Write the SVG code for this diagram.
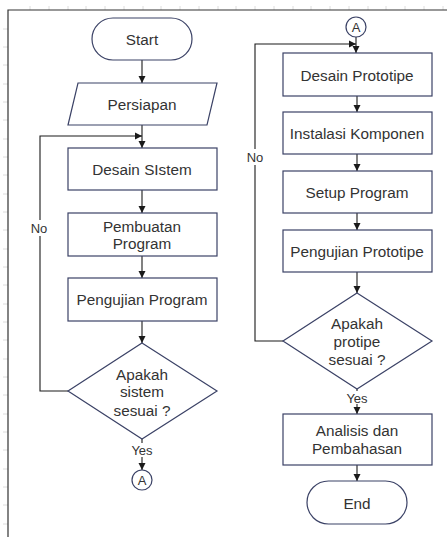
<svg xmlns="http://www.w3.org/2000/svg" width="447" height="537" viewBox="0 0 447 537">
<defs>
<marker id="ah" markerWidth="8" markerHeight="8" refX="7" refY="4" orient="auto" markerUnits="userSpaceOnUse">
<path d="M0,0.5 L7,4 L0,7.5 Z" fill="#1a1a1a"/>
</marker>
</defs>
<style>
.shape{fill:#ffffff;stroke:#3b4266;stroke-width:1.2}
.conn{fill:none;stroke:#1a1a1a;stroke-width:1.1}
.t{font-family:"Liberation Sans",Arial,sans-serif;font-size:15.3px;fill:#333333;text-anchor:middle}
.s{font-family:"Liberation Sans",Arial,sans-serif;font-size:13px;fill:#333333;text-anchor:middle}
.tick{stroke:#dcdcdc;stroke-width:1}
</style>
<rect x="0" y="0" width="447" height="537" fill="#ffffff"/>
<g id="ruler">
<path class="tick" d="M3,29H8M3,47H8M3,65H8M3,84H8M3,102H8M3,120H8M3,139H8M3,157H8M3,175H8M3,194H8M3,212H8M3,230H8M3,249H8M3,267H8M3,285H8M3,304H8M3,322H8M3,340H8M3,359H8M3,377H8M3,395H8M3,414H8M3,432H8M3,450H8M3,469H8M3,487H8M3,505H8M3,524H8"/>
<path class="tick" d="M30,6V10M49,6V10M68,6V10M86,6V10M105,6V10M124,6V10M143,6V10M161,6V10M180,6V10M199,6V10M218,6V10M236,6V10M255,6V10M274,6V10M293,6V10M311,6V10M330,6V10M349,6V10M368,6V10M386,6V10M405,6V10M424,6V10M443,6V10"/>
</g>
<path d="M8,537V10H447" fill="none" stroke="#333333" stroke-width="1.2"/>

<g id="connectors">
<path class="conn" d="M142,60V83" marker-end="url(#ah)"/>
<path class="conn" d="M142,125V148" marker-end="url(#ah)"/>
<path class="conn" d="M68,391H40V136H142" marker-end="url(#ah)"/>
<path class="conn" d="M142,190V213" marker-end="url(#ah)"/>
<path class="conn" d="M142,256V278" marker-end="url(#ah)"/>
<path class="conn" d="M142,321V343" marker-end="url(#ah)"/>
<path class="conn" d="M142,439V443"/>
<path class="conn" d="M142,457V470" marker-end="url(#ah)"/>
<path class="conn" d="M356,37V53" marker-end="url(#ah)"/>
<path class="conn" d="M283,341H255V44H356" marker-end="url(#ah)"/>
<path class="conn" d="M357,96V112" marker-end="url(#ah)"/>
<path class="conn" d="M357,154V171" marker-end="url(#ah)"/>
<path class="conn" d="M357,213V230" marker-end="url(#ah)"/>
<path class="conn" d="M357,272V293" marker-end="url(#ah)"/>
<path class="conn" d="M357,389V391"/>
<path class="conn" d="M357,404V414" marker-end="url(#ah)"/>
<path class="conn" d="M357,465V481" marker-end="url(#ah)"/>
<rect x="29" y="220" width="22" height="16" fill="#ffffff"/>
<text class="s" x="39" y="233">No</text>
<rect x="244" y="149" width="22" height="16" fill="#ffffff"/>
<text class="s" x="255" y="162">No</text>
<text class="s" x="142" y="455">Yes</text>
<text class="s" x="357" y="403">Yes</text>
</g>

<g id="start">
<rect class="shape" x="92" y="18" width="100" height="42" rx="21" ry="21"/>
<text class="t" x="142" y="44.5">Start</text>
</g>
<g id="persiapan">
<polygon class="shape" points="78,83 217,83 207,125 68,125"/>
<text class="t" x="142" y="109.5">Persiapan</text>
</g>
<g id="desain-sistem">
<rect class="shape" x="68" y="148" width="149" height="42"/>
<text class="t" x="142" y="174.5">Desain SIstem</text>
</g>
<g id="pembuatan-program">
<rect class="shape" x="68" y="213" width="149" height="43"/>
<text class="t" x="142" y="231.5">Pembuatan</text>
<text class="t" x="142" y="248.5">Program</text>
</g>
<g id="pengujian-program">
<rect class="shape" x="68" y="278" width="149" height="43"/>
<text class="t" x="142" y="304.5">Pengujian Program</text>
</g>
<g id="apakah-sistem">
<polygon class="shape" points="142,343 217,391 142,439 68,391"/>
<text class="t" x="142" y="379.5">Apakah</text>
<text class="t" x="142" y="396.5">sistem</text>
<text class="t" x="142" y="415.5">sesuai ?</text>
</g>
<g id="connector-a-out">
<circle class="shape" cx="142" cy="480" r="10"/>
<text class="s" x="142" y="484.5">A</text>
</g>

<g id="connector-a-in">
<circle class="shape" cx="356" cy="27" r="10"/>
<text class="s" x="356" y="31.5">A</text>
</g>
<g id="desain-prototipe">
<rect class="shape" x="283" y="53" width="149" height="43"/>
<text class="t" x="357" y="80.5">Desain Prototipe</text>
</g>
<g id="instalasi-komponen">
<rect class="shape" x="283" y="112" width="149" height="42"/>
<text class="t" x="357" y="138.5">Instalasi Komponen</text>
</g>
<g id="setup-program">
<rect class="shape" x="283" y="171" width="149" height="42"/>
<text class="t" x="357" y="197.5">Setup Program</text>
</g>
<g id="pengujian-prototipe">
<rect class="shape" x="283" y="230" width="149" height="42"/>
<text class="t" x="357" y="256.5">Pengujian Prototipe</text>
</g>
<g id="apakah-prototipe">
<polygon class="shape" points="357,293 432,341 357,389 283,341"/>
<text class="t" x="357" y="328.5">Apakah</text>
<text class="t" x="357" y="346.5">protipe</text>
<text class="t" x="357" y="364.5">sesuai ?</text>
</g>
<g id="analisis">
<rect class="shape" x="283" y="414" width="149" height="51"/>
<text class="t" x="357" y="435.5">Analisis dan</text>
<text class="t" x="357" y="453.5">Pembahasan</text>
</g>
<g id="end">
<rect class="shape" x="307" y="481" width="100" height="43" rx="21.5" ry="21.5"/>
<text class="t" x="357" y="508.5">End</text>
</g>
</svg>
